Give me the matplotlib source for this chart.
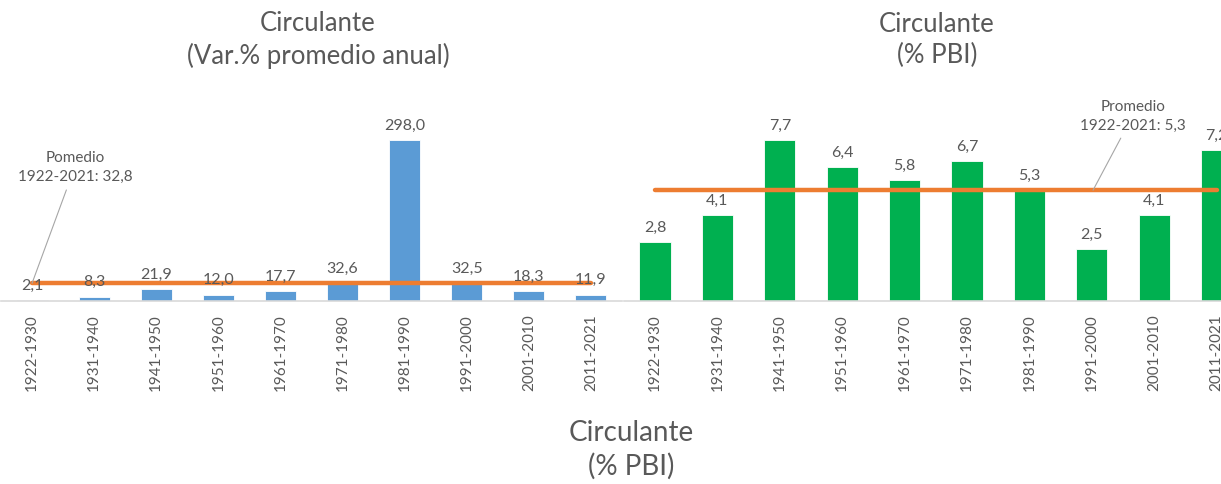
import numpy as np
import matplotlib
matplotlib.use('Agg')
import matplotlib.pyplot as plt

plt.rcParams['font.family'] = ['Lato', 'DejaVu Sans']

PERIODS = ['1922-1930', '1931-1940', '1941-1950', '1951-1960', '1961-1970',
           '1971-1980', '1981-1990', '1991-2000', '2001-2010', '2011-2021']
VAR_ANUAL = [2.1, 8.3, 21.9, 12.0, 17.7, 32.6, 298.0, 32.5, 18.3, 11.9]
PROM_VAR = 32.8
PBI = [2.8, 4.1, 7.7, 6.4, 5.8, 6.7, 5.3, 2.5, 4.1, 7.2]
PROM_PBI = 5.3

GRIS = '#595959'
AZUL = '#5B9BD5'
VERDE = '#00B050'
NARANJA = '#ED7D31'

W, H = 1221, 485
fig = plt.figure(figsize=(W / 100, H / 100), dpi=100)


def px_axes(x0, y_base, w, h):
    # rectángulo en píxeles (y_base = línea base medida desde arriba)
    return fig.add_axes([x0 / W, (H - y_base) / H, w / W, h / H])


def coma(v):
    return f'{v:.1f}'.replace('.', ',')


def panel(ax, vals, prom, color, ymax):
    x = np.arange(len(vals))
    ax.bar(x, vals, width=0.5, color=color, edgecolor='white', lw=0.6, zorder=2)
    ax.plot([x[0], x[-1]], [prom, prom], color=NARANJA, lw=3.2,
            solid_capstyle='round', zorder=3)
    for xi, v in zip(x, vals):
        ax.annotate(coma(v), (xi, v), xytext=(0, 6), textcoords='offset points',
                    ha='center', va='bottom', fontsize=11.5, color=GRIS)
    ax.set_xlim(-0.5, len(vals) - 0.5)
    ax.set_ylim(0, ymax)
    ax.set_xticks(x)
    ax.set_xticklabels(PERIODS, rotation=90, fontsize=11, color=GRIS)
    ax.tick_params(axis='x', length=0, pad=9)
    ax.set_yticks([])
    for s in ['left', 'right', 'top']:
        ax.spines[s].set_visible(False)
    ax.spines['bottom'].set_color('#D9D9D9')
    ax.spines['bottom'].set_linewidth(1.2)
    ax.patch.set_alpha(0)


ax1 = px_axes(1, 302, 621, 178.2)
panel(ax1, VAR_ANUAL, PROM_VAR, AZUL, 330)
ax1.annotate('Pomedio\n1922-2021: ' + coma(PROM_VAR), xy=(0.0, PROM_VAR),
             xytext=(0.69, 218), ha='center', va='bottom', fontsize=11,
             color=GRIS, linespacing=1.45,
             arrowprops=dict(arrowstyle='-', color='#A6A6A6', lw=0.8,
                             shrinkA=3, shrinkB=0))

ax2 = px_axes(623.8, 302, 624, 177.7)
panel(ax2, PBI, PROM_PBI, VERDE, 8.5)
ax2.annotate('Promedio\n1922-2021: ' + coma(PROM_PBI), xy=(7.02, PROM_PBI),
             xytext=(7.66, 8.1), ha='center', va='bottom', fontsize=11,
             color=GRIS, linespacing=1.45,
             arrowprops=dict(arrowstyle='-', color='#A6A6A6', lw=0.8,
                             shrinkA=3, shrinkB=0))

fig.text(318 / W, 1 - 40 / H, 'Circulante\n(Var.% promedio anual)', ha='center',
         va='center', fontsize=18.5, color=GRIS, linespacing=1.3)
fig.text(937 / W, 1 - 40 / H, 'Circulante\n(% PBI)', ha='center',
         va='center', fontsize=18.5, color=GRIS, linespacing=1.3)
fig.text(631 / W, 1 - 450 / H, 'Circulante\n(% PBI)', ha='center',
         va='center', fontsize=20, color=GRIS, linespacing=1.3)

fig.savefig('out.png', dpi=100)
